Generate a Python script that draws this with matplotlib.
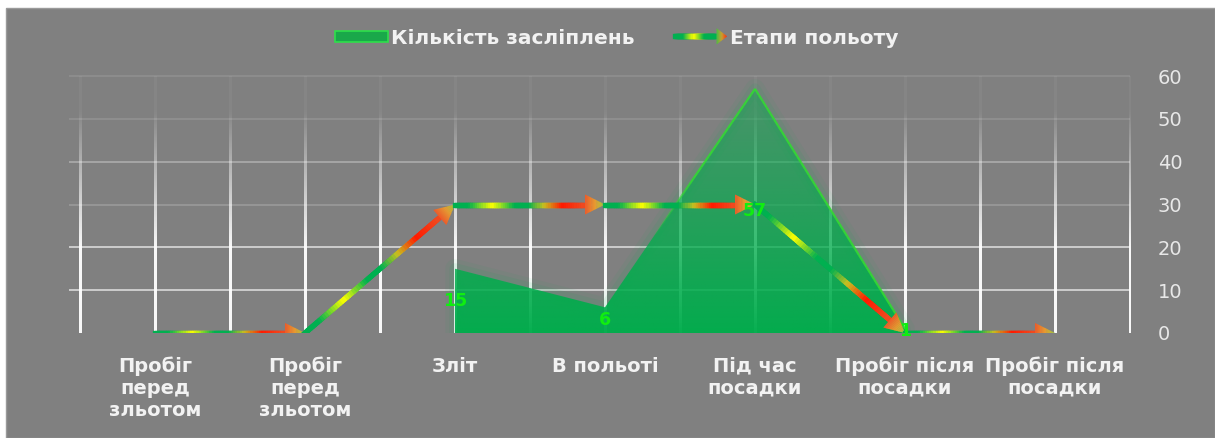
import numpy as np
import matplotlib
matplotlib.use("Agg")
import matplotlib.pyplot as plt
from matplotlib.collections import LineCollection
from matplotlib.colors import LinearSegmentedColormap, to_rgba
from matplotlib.patches import Polygon, Patch, Rectangle
from matplotlib.legend_handler import HandlerBase
from matplotlib.lines import Line2D

# ---- data ----
categories = ["Пробіг\nперед\nзльотом", "Пробіг\nперед\nзльотом", "Зліт", "В польоті",
              "Під час\nпосадки", "Пробіг після\nпосадки", "Пробіг після\nпосадки"]
glare_counts = [np.nan, np.nan, 15, 6, 57, 1, np.nan]      # Кількість засліплень
flight_stages = [0, 0, 30, 30, 30, 0, 0]                   # Етапи польоту
y_ticks = [0, 10, 20, 30, 40, 50, 60]

series_area = "Кількість засліплень"
series_line = "Етапи польоту"

# ---- styling ----
BG = "#808080"
TXT = "#f2f2f2"
AREA_GREEN = "#00ad4c"
LABEL_GREEN = "#10ee10"
FONT = "DejaVu Sans"
seg_cmap = LinearSegmentedColormap.from_list(
    "seg", [(0.0, "#00b050"), (0.12, "#00b050"), (0.3, "#ffff00"), (0.47, "#00b050"),
            (0.58, "#00b050"), (0.7, "#c8c020"), (0.84, "#ff1a00"), (1.0, "#f04a20")])
head_cmap = LinearSegmentedColormap.from_list("head", ["#ee5a28", "#e89a30", "#9cc840"])

W, H = 1215, 438
fig = plt.figure(figsize=(W / 100, H / 100), dpi=100)
fig.patch.set_facecolor("white")
fig.patches.append(Rectangle((6 / W, 0), 1 - 6 / W, 1 - 8 / H, transform=fig.transFigure,
                             facecolor=BG, edgecolor="#9a9a9a", linewidth=1, zorder=-10))

ax = fig.add_axes([80 / W, 105 / H, 1050 / W, 257 / H])
ax.set_facecolor("none")
for s in ax.spines.values():
    s.set_visible(False)

x = np.arange(len(categories))
x_lo, x_hi = -0.5, len(categories) - 0.5
y_lo, y_hi = y_ticks[0], y_ticks[-1]

# ---- grid: faint horizontal lines, vertical lines fading towards the top ----
h_alpha = {10: 0.7, 20: 0.7, 30: 0.2, 40: 0.35, 50: 0.14, 60: 0.12}
for v in y_ticks[1:]:
    ax.plot([x_lo - 0.07, x_hi], [v, v], color="white", lw=1.2,
            alpha=h_alpha[v], zorder=1, clip_on=False, solid_capstyle="butt")

rows = 120
yv = np.linspace(y_lo, y_hi, rows)
v_alpha = np.clip(0.95 - np.maximum(yv - 20, 0) / 32 * 0.9, 0.05, 0.95)
vline_img = np.ones((rows, 1, 4))
vline_img[:, 0, 3] = v_alpha
px_per_unit = 1050 / (x_hi - x_lo)
for gx in np.arange(x_lo, x_hi + 0.01, 0.5):
    half = (1.2 if gx < x_hi else 1.0) / px_per_unit
    ax.imshow(vline_img, extent=[gx - half, gx + half, y_lo, y_hi], origin="lower",
              aspect="auto", interpolation="bilinear", zorder=1, clip_on=False)

# ---- area series with vertical gradient ----
gc = np.array(glare_counts, dtype=float)
mask = ~np.isnan(gc)
ax_x = x[mask]
ax_y = gc[mask]
poly_pts = [(ax_x[0], 0)] + list(zip(ax_x, ax_y)) + [(ax_x[-1], 0)]

for lw_g, a_g in [(14, 0.05), (8, 0.08)]:
    ax.add_patch(Polygon(poly_pts, closed=True, facecolor="none", edgecolor=AREA_GREEN,
                         linewidth=lw_g, alpha=a_g, joinstyle="round", zorder=2))
clip_poly = Polygon(poly_pts, closed=True, facecolor="none", edgecolor="none")
ax.add_patch(clip_poly)
ymax = np.nanmax(gc)
grad_rows = 200
alpha_col = np.linspace(0.97, 0.42, grad_rows)
img = np.zeros((grad_rows, 2, 4))
base = to_rgba(AREA_GREEN)
img[..., 0], img[..., 1], img[..., 2] = base[0], base[1], base[2]
img[..., 3] = alpha_col[:, None]
im = ax.imshow(img, extent=[ax_x[0], ax_x[-1], 0, ymax], origin="lower",
               aspect="auto", interpolation="bilinear", zorder=2)
im.set_clip_path(clip_poly)

# bright outline along the rising and falling edges of the peak
for i in range(1, len(ax_x) - 1):
    t = np.linspace(0, 1, 40)
    xs_ = ax_x[i] + (ax_x[i + 1] - ax_x[i]) * t
    ys_ = ax_y[i] + (ax_y[i + 1] - ax_y[i]) * t
    rising = ax_y[i + 1] > ax_y[i]
    segs, cols = [], []
    for k in range(len(xs_) - 1):
        ym = (ys_[k] + ys_[k + 1]) / 2
        a = np.clip((ym - 22) / 14, 0, 1) * 0.9 if rising else 0.9
        segs.append([(xs_[k], ys_[k]), (xs_[k + 1], ys_[k + 1])])
        cols.append((0.2, 0.85, 0.2, a))
    ax.add_collection(LineCollection(segs, colors=cols, linewidths=1.6, zorder=3))

ax.set_xlim(x_lo, x_hi)
ax.set_ylim(y_lo, y_hi)

# ---- line series: gradient segments ending in arrowheads ----
trans = ax.transData
inv = trans.inverted()
LW_PT = 3.8
HEAD_L, HEAD_W = 20, 10
for i in range(len(flight_stages) - 1):
    p0 = np.array([x[i], flight_stages[i]], float)
    p1 = np.array([x[i + 1], flight_stages[i + 1]], float)
    P0, P1 = trans.transform(p0), trans.transform(p1)
    d = (P1 - P0) / np.linalg.norm(P1 - P0)
    nrm = np.array([-d[1], d[0]])
    B = P1 - HEAD_L * d
    n = 60
    t = np.linspace(0, 1, n + 1)
    pts = inv.transform(P0[None, :] + (B - P0)[None, :] * t[:, None])
    segs = [[pts[k], pts[k + 1]] for k in range(n)]
    lc = LineCollection(segs, colors=seg_cmap((t[:-1] + t[1:]) / 2),
                        linewidths=LW_PT, capstyle="projecting", zorder=4)
    ax.add_collection(lc)
    K = 16
    for k in range(K):
        a0, a1 = k / K, (k + 1) / K
        a1c = min(a1 + 0.02, 1)
        c0 = B + a0 * HEAD_L * d
        c1 = B + a1c * HEAD_L * d
        quad = np.array([c0 + HEAD_W * (1 - a0) * nrm, c1 + HEAD_W * (1 - a1c) * nrm,
                         c1 - HEAD_W * (1 - a1c) * nrm, c0 - HEAD_W * (1 - a0) * nrm])
        ax.add_patch(Polygon(inv.transform(quad), closed=True,
                             facecolor=head_cmap((a0 + a1) / 2), edgecolor="none",
                             zorder=4))

# ---- value labels for the area series ----
for xi, v in zip(x, gc):
    if np.isnan(v):
        continue
    ax.text(xi, v / 2, f"{int(v)}", ha="center", va="center", color=LABEL_GREEN,
            fontsize=12.5, fontweight="bold", family=FONT, zorder=6)

# ---- axes ticks ----
ax.set_xticks(x)
ax.set_xticklabels(categories, color=TXT, fontsize=14, fontweight="bold",
                   family=FONT, linespacing=1.18)
ax.tick_params(axis="x", length=0, pad=17)
ax.yaxis.tick_right()
ax.set_yticks(y_ticks)
ax.set_yticklabels([str(v) for v in y_ticks], color="#e8e8e8", fontsize=14,
                   family=FONT)
ax.tick_params(axis="y", length=0, pad=20)
for lab in ax.get_yticklabels():
    lab.set_horizontalalignment("left")


# ---- legend ----
class GradientArrowHandler(HandlerBase):
    def create_artists(self, legend, orig_handle, xdescent, ydescent, width, height,
                       fontsize, trans):
        yc = height / 2 - ydescent
        x0 = -xdescent
        x1 = x0 + width
        head = 0.2 * width
        n = 40
        xs = np.linspace(x0, x1 - head, n + 1)
        segs = [[(xs[k], yc), (xs[k + 1], yc)] for k in range(n)]
        cm = LinearSegmentedColormap.from_list(
            "lg", ["#00b050", "#00b050", "#ffff00", "#00b050", "#00b050"])
        lc = LineCollection(segs, colors=cm((np.arange(n) + 0.5) / n),
                            linewidths=LW_PT, transform=trans, capstyle="projecting")
        arts = [lc]
        hc = LinearSegmentedColormap.from_list("lh", ["#4cc040", "#c8a030", "#ff2a10"])
        K = 10
        hw = height * 0.7
        for k in range(K):
            a0, a1 = k / K, (k + 1) / K
            xa, xb = x1 - head + a0 * head, x1 - head + min(a1 + 0.03, 1) * head
            quad = [(xa, yc + hw * (1 - a0)), (xb, yc + hw * (1 - a1)),
                    (xb, yc - hw * (1 - a1)), (xa, yc - hw * (1 - a0))]
            arts.append(Polygon(quad, closed=True, facecolor=hc((a0 + a1) / 2),
                                edgecolor="none", transform=trans))
        return arts


area_handle = Patch(facecolor="#1aa84a", edgecolor="#2ee04a", linewidth=1.2)
line_handle = Line2D([], [])
leg = fig.legend([area_handle, line_handle], [series_area, series_line],
                 loc="center", bbox_to_anchor=(617 / W, 1 - 38 / H), ncol=2,
                 frameon=False, handlelength=2.6, handleheight=0.5, handletextpad=0.15,
                 columnspacing=2.0,
                 handler_map={Line2D: GradientArrowHandler()},
                 prop={"family": FONT, "weight": "bold", "size": 14.5})
for t in leg.get_texts():
    t.set_color(TXT)

fig.savefig("out.png", dpi=100, facecolor=fig.get_facecolor())
